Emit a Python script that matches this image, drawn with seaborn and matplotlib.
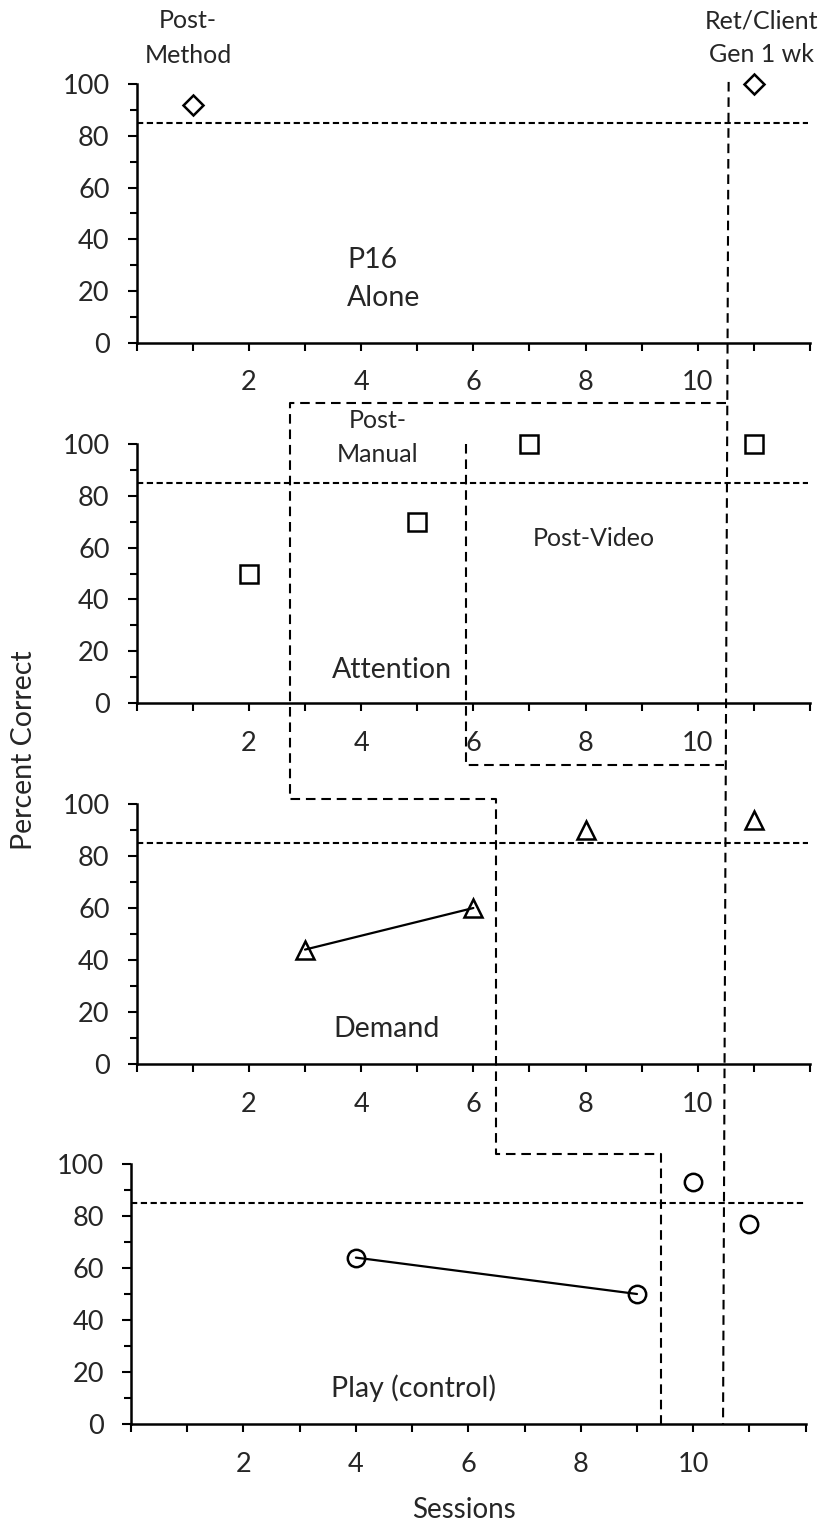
import matplotlib
matplotlib.use("Agg")
import matplotlib.pyplot as plt
import seaborn as sns
import pandas as pd
from matplotlib.lines import Line2D
from matplotlib.ticker import MultipleLocator

sns.set_style("ticks")
plt.rcParams["font.family"] = ["Lato", "DejaVu Sans"]

# ---------------- data ----------------
alone_sessions = [1, 11]
alone_pct = [92, 100]
alone_phase = ["Post-Method", "Retention"]

attention_sessions = [2, 5, 7, 11]
attention_pct = [50, 70, 100, 100]
attention_phase = ["Baseline", "Post-Manual", "Post-Video", "Retention"]

demand_sessions = [3, 6, 8, 11]
demand_pct = [44, 60, 90, 94]
demand_phase = ["Baseline", "Baseline", "Post-Method", "Retention"]

play_sessions = [4, 9, 10, 11]
play_pct = [64, 50, 93, 77]
play_phase = ["Baseline", "Baseline", "Post-Method", "Retention"]

criterion = 85
x_tick_values = list(range(0, 13))
x_tick_labels = ["", "", "2", "", "4", "", "6", "", "8", "", "10", "", ""]
y_tick_values = [0, 20, 40, 60, 80, 100]

# phase-change positions (sessions)
retention_change = 10.5
attention_change = 2.73
video_change = 5.87
demand_change = 6.40
play_change = 9.43

# ---------------- figure ----------------
W, H = 822, 1523
fig = plt.figure(figsize=(W / 100, H / 100), dpi=100)
fig.patch.set_facecolor("white")


def rect(left, right, ytop, ybot):
    return [left / W, 1 - ybot / H, (right - left) / W, (ybot - ytop) / H]


ax1 = fig.add_axes(rect(136.7, 810, 84, 343))
ax2 = fig.add_axes(rect(136.7, 810, 444, 703))
ax3 = fig.add_axes(rect(136.7, 810, 804, 1064))
ax4 = fig.add_axes(rect(131, 805.7, 1164, 1424))
axes = [ax1, ax2, ax3, ax4]

panels = [
    (alone_sessions, alone_pct, alone_phase, "D", 10.5),
    (attention_sessions, attention_pct, attention_phase, "s", 12.5),
    (demand_sessions, demand_pct, demand_phase, "^", 13.5),
    (play_sessions, play_pct, play_phase, "o", 12.5),
]

for ax, (xs, ys, ph, mk, ms) in zip(axes, panels):
    df = pd.DataFrame({"session": xs, "pct": ys, "phase": ph})
    ax.set_facecolor("none")
    ax.axhline(criterion, xmin=0, xmax=0.997, color="black", lw=1.5,
               linestyle=(0, (3.0, 1.7)), zorder=1)
    sns.lineplot(data=df, x="session", y="pct", units="phase", estimator=None,
                 marker=mk, markersize=ms, markerfacecolor="none",
                 markeredgecolor="black", markeredgewidth=1.8,
                 color="black", linewidth=1.6, clip_on=False, ax=ax,
                 legend=False, zorder=3)
    ax.set_xlim(0, 12)
    ax.set_ylim(0, 100)
    ax.set_xticks(x_tick_values)
    ax.set_xticklabels(x_tick_labels)
    ax.set_yticks(y_tick_values)
    ax.set_yticklabels([str(v) for v in y_tick_values])
    ax.yaxis.set_minor_locator(MultipleLocator(10))
    ax.tick_params(axis="x", which="major", direction="out", length=5.8,
                   width=1.5, pad=14, labelsize=19.5, bottom=True, color="black")
    ax.tick_params(axis="y", which="major", direction="out", length=6.5,
                   width=1.5, pad=13, labelsize=19.5, left=True, color="black")
    ax.tick_params(axis="y", which="minor", direction="out", length=5,
                   width=1.5, left=True, color="black")
    ax.set_xlabel("")
    ax.set_ylabel("")
    for s in ["top", "right"]:
        ax.spines[s].set_visible(False)
    for s in ["left", "bottom"]:
        ax.spines[s].set_linewidth(1.8)
        ax.spines[s].set_color("black")

# ---------------- text ----------------
small = 18
big = 20.5
ax1.text(0.915, 121.5, "Post-", ha="center", va="baseline", fontsize=small, clip_on=False)
ax1.text(0.915, 108.2, "Method", ha="center", va="baseline", fontsize=small, clip_on=False)
ax1.text(11.14, 121.5, "Ret/Client", ha="center", va="baseline", fontsize=small, clip_on=False)
ax1.text(11.14, 108.6, "Gen 1 wk", ha="center", va="baseline", fontsize=small, clip_on=False)
ax1.text(3.75, 28.8, "P16", ha="left", va="baseline", fontsize=big)
ax1.text(3.75, 14.3, "Alone", ha="left", va="baseline", fontsize=big)

ax2.text(4.30, 106.1, "Post-", ha="center", va="baseline", fontsize=small, clip_on=False)
ax2.text(4.30, 93.2, "Manual", ha="center", va="baseline", fontsize=small)
ax2.text(7.06, 60.6, "Post-Video", ha="left", va="baseline", fontsize=small)
ax2.text(3.48, 9.5, "Attention", ha="left", va="baseline", fontsize=big)

ax3.text(3.50, 10.3, "Demand", ha="left", va="baseline", fontsize=big)
ax4.text(3.56, 10.5, "Play (control)", ha="left", va="baseline", fontsize=big)

fig.text(24 / W, 1 - 750 / H, "Percent Correct", rotation=90, ha="center",
         va="center", fontsize=20.5)
fig.text(464 / W, 1 - 1518 / H, "Sessions", ha="center", va="baseline",
         fontsize=20)

# ---------------- phase-change lines ----------------
inv = fig.transFigure.inverted()


def P(axx, x, axy, y):
    px = axx.transData.transform((x, 0))[0]
    py = axy.transData.transform((0, y))[1]
    return inv.transform((px, py))


def poly(points):
    xs = [p[0] for p in points]
    ys = [p[1] for p in points]
    fig.add_artist(Line2D(xs, ys, transform=fig.transFigure, color="black",
                          lw=1.5, linestyle=(0, (4.6, 2.8)), zorder=5))


# retention line across all panels
poly([P(ax1, retention_change + 0.05, ax1, 100.8),
      P(ax4, retention_change + 0.03, ax4, 0)])

# staggered line: attention -> demand -> play
poly([P(ax2, retention_change, ax2, 116),
      P(ax2, attention_change, ax2, 116),
      P(ax2, attention_change, ax3, 102),
      P(ax3, demand_change, ax3, 102),
      P(ax3, demand_change, ax4, 104),
      P(ax4, play_change, ax4, 104),
      P(ax4, play_change, ax4, 0)])

# post-video line in attention panel
poly([P(ax2, video_change, ax2, 100),
      P(ax2, video_change, ax3, 115),
      P(ax3, retention_change - 0.03, ax3, 115)])

fig.savefig("out.png", dpi=100, facecolor="white")
